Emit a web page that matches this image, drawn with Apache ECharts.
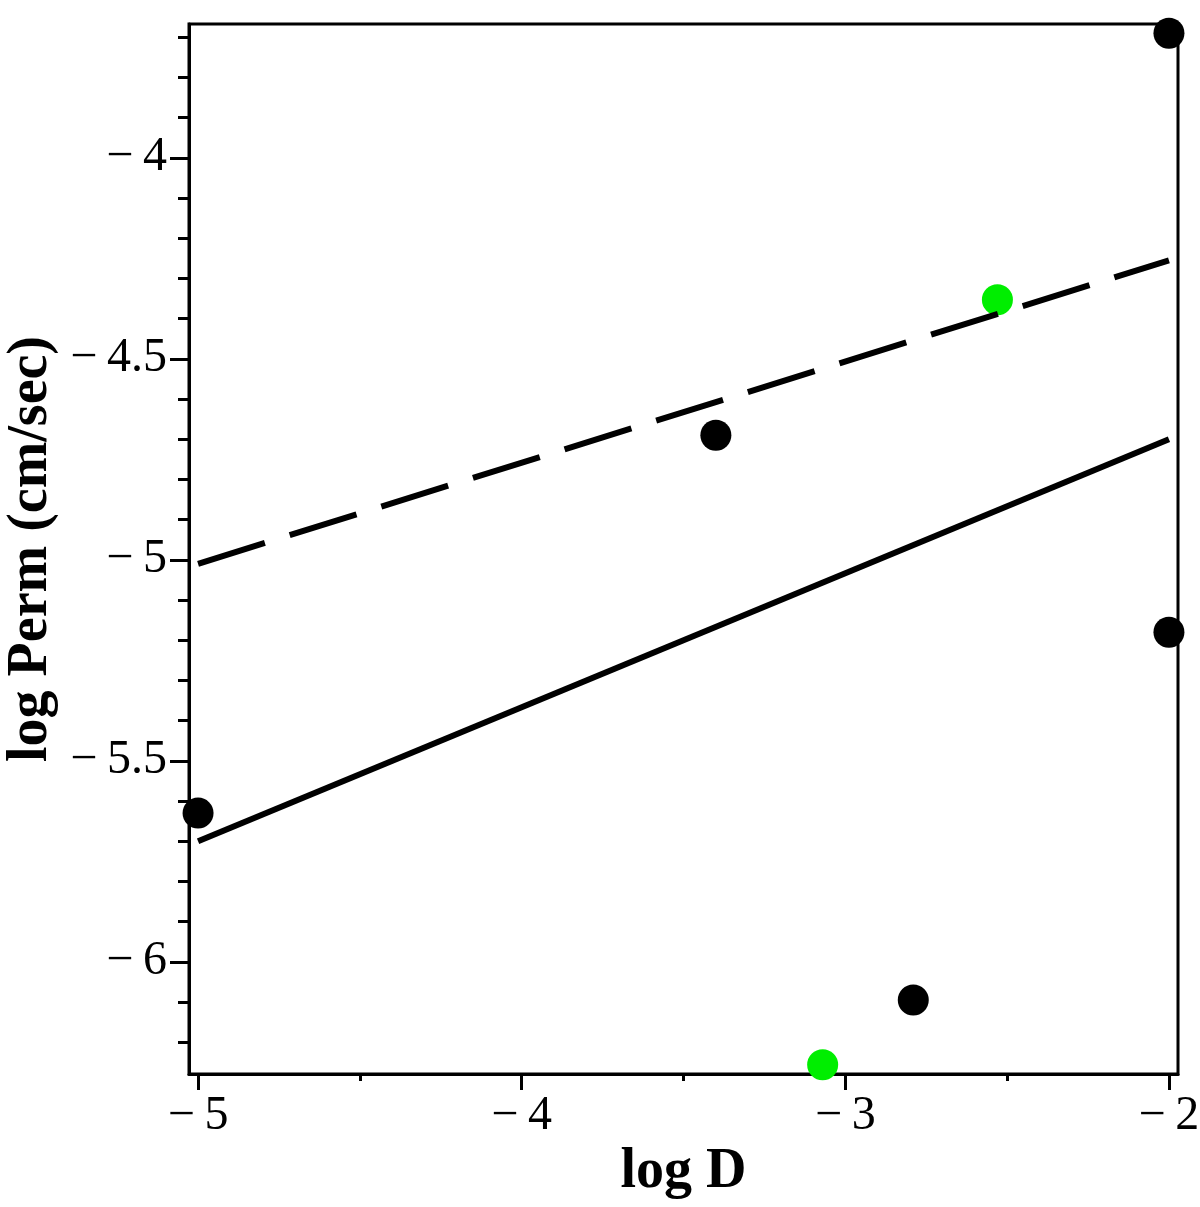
<!DOCTYPE html>
<html>
<head>
<meta charset="utf-8">
<script src="https://cdn.jsdelivr.net/npm/echarts@6/dist/echarts.min.js"></script>
<style>
  html, body { margin: 0; padding: 0; background: #fff; }
  #main { width: 1200px; height: 1207px; }
</style>
</head>
<body>
<div id="main"></div>
<script>
// data (log D vs log Perm)
var blackPoints = [[-2.0, -3.69], [-3.4, -4.69], [-2.0, -5.18], [-5.0, -5.63], [-2.79, -6.095]];
var greenPoints = [[-2.53, -4.353], [-3.07, -6.256]];
var solidFit = [[-5.0, -5.70], [-2.0, -4.70]];
var dashedFit = [[-5.0, -5.01], [-2.0, -4.255]];

var xMajor = [-5, -4, -3, -2];
var xMinor = [-4.5, -3.5, -2.5];
var yMajor = [-6, -5.5, -5, -4.5, -4];
var yMinor = [-6.2, -6.1, -5.9, -5.8, -5.7, -5.6, -5.4, -5.3, -5.2, -5.1,
              -4.9, -4.8, -4.7, -4.6, -4.4, -4.3, -4.2, -4.1, -3.9, -3.8, -3.7];

var serif = 'Liberation Serif';
function fmt(v) {
  return v < 0 ? '\u2212\u2009' + Math.abs(v) : String(v);
}

var chart = echarts.init(document.getElementById('main'));

var xBase = {
  type: 'value',
  min: -5.028,
  max: -1.972,
  splitLine: { show: false },
  axisLine: { show: true, onZero: false, lineStyle: { color: '#000', width: 3 } }
};
var yBase = {
  type: 'value',
  min: -6.279,
  max: -3.667,
  splitLine: { show: false },
  axisLine: { show: true, onZero: false, lineStyle: { color: '#000', width: 3 } }
};

chart.setOption({
  animation: false,
  grid: {
    left: 189, right: 22, top: 24, bottom: 133,
    containLabel: false, outerBoundsMode: 'none',
    show: true, borderColor: '#000', borderWidth: 3,
    backgroundColor: 'transparent'
  },
  xAxis: [
    Object.assign({}, xBase, {
      position: 'bottom',
      name: 'log D',
      nameLocation: 'middle',
      nameGap: 70,
      nameTextStyle: { fontFamily: serif, fontWeight: 'bold', fontSize: 56, color: '#000' },
      axisTick: { show: true, customValues: xMajor, length: 16, lineStyle: { color: '#000', width: 3 } },
      axisLabel: {
        customValues: xMajor, formatter: fmt, margin: 18,
        fontFamily: serif, fontSize: 48, color: '#000'
      }
    }),
    Object.assign({}, xBase, {
      position: 'bottom',
      axisLine: { show: false },
      axisTick: { show: true, customValues: xMinor, length: 7, lineStyle: { color: '#000', width: 3 } },
      axisLabel: { show: false }
    })
  ],
  yAxis: [
    Object.assign({}, yBase, {
      position: 'left',
      name: 'log Perm (cm/sec)',
      nameLocation: 'middle',
      nameGap: 125,
      nameTextStyle: { fontFamily: serif, fontWeight: 'bold', fontSize: 56, color: '#000' },
      axisTick: { show: true, customValues: yMajor, length: 19, lineStyle: { color: '#000', width: 3 } },
      axisLabel: {
        customValues: yMajor, formatter: fmt, margin: 22,
        fontFamily: serif, fontSize: 48, color: '#000'
      }
    }),
    Object.assign({}, yBase, {
      position: 'left',
      axisLine: { show: false },
      axisTick: { show: true, customValues: yMinor, length: 11, lineStyle: { color: '#000', width: 3 } },
      axisLabel: { show: false }
    })
  ],
  series: [
    {
      type: 'line', data: dashedFit, symbol: 'none',
      lineStyle: { color: '#000', width: 6, type: [70, 26], cap: 'butt' }
    },
    {
      type: 'line', data: solidFit, symbol: 'none',
      lineStyle: { color: '#000', width: 6 }
    },
    {
      type: 'scatter', data: blackPoints, symbolSize: 31,
      itemStyle: { color: '#000', opacity: 1 }
    },
    {
      type: 'scatter', data: greenPoints, symbolSize: 31,
      itemStyle: { color: '#00ee00', opacity: 1 }
    }
  ]
});
</script>
</body>
</html>
